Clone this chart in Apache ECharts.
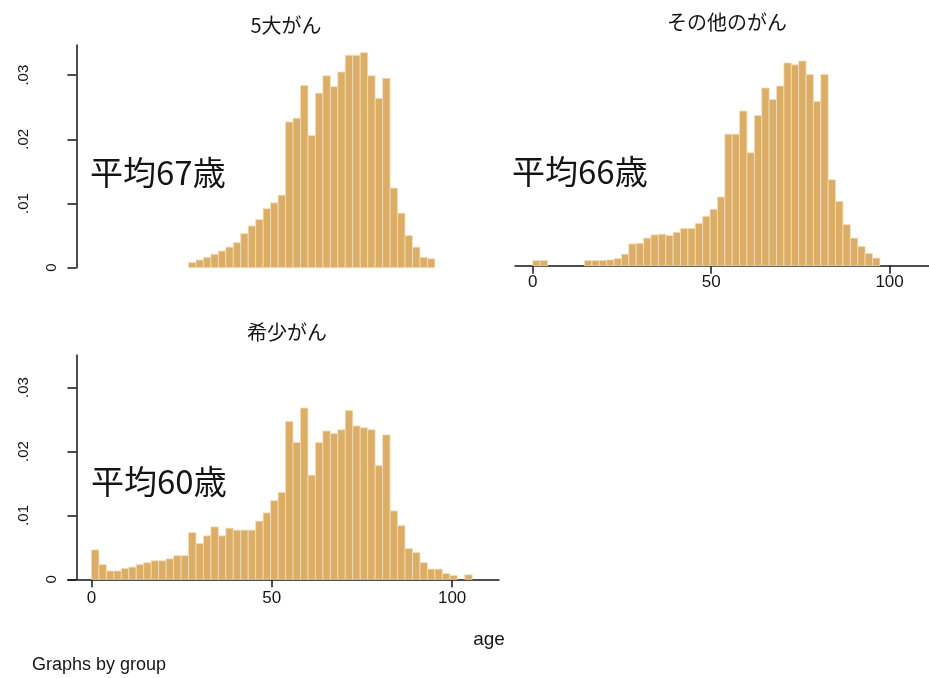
<!DOCTYPE html>
<html>
<head>
<meta charset="utf-8">
<script src="https://cdn.jsdelivr.net/npm/echarts@6/dist/echarts.min.js"></script>
<style>
  html, body { margin: 0; padding: 0; background: #ffffff; }
  #chart { width: 929px; height: 678px; }
</style>
</head>
<body>
<div id="chart"></div>
<script>
// Age histograms (density scale) for three cancer groups, common bins
const binStart = 0;
const binWidth = 2.07;

const groupNames = ['5大がん', 'その他のがん', '希少がん'];
const meanLabels = ['平均67歳', '平均66歳', '平均60歳'];

// density per bin, bin i covers [binStart + i*binWidth, binStart + (i+1)*binWidth)
const densityMajor = [
  0, 0, 0, 0, 0, 0, 0, 0, 0, 0, 0, 0, 0,
  0.0008, 0.0012, 0.0016, 0.0021, 0.0026, 0.0032, 0.0039, 0.0053, 0.0065, 0.0075,
  0.0092, 0.0101, 0.0113, 0.0227, 0.0233, 0.0284, 0.0206, 0.0272, 0.0299, 0.0282,
  0.0305, 0.0331, 0.0331, 0.0335, 0.0299, 0.0264, 0.0295, 0.0124, 0.0085, 0.0050,
  0.0032, 0.0016, 0.0014
];
const densityOther = [
  0.0008, 0.0008, 0, 0, 0, 0, 0, 0.0008, 0.0008, 0.0008, 0.0009, 0.0011, 0.0018,
  0.0034, 0.0035, 0.0043, 0.0048, 0.0049, 0.0047, 0.0052, 0.0058, 0.0058, 0.0066,
  0.0077, 0.0088, 0.0107, 0.0205, 0.0205, 0.0241, 0.0176, 0.0234, 0.0277, 0.0259,
  0.0280, 0.0316, 0.0313, 0.0319, 0.0298, 0.0256, 0.0298, 0.0134, 0.0100, 0.0064,
  0.0043, 0.0030, 0.0019, 0.0012
];
const densityRare = [
  0.0046, 0.0023, 0.0013, 0.0013, 0.0017, 0.0019, 0.0023, 0.0026, 0.0029, 0.0029,
  0.0032, 0.0037, 0.0037, 0.0073, 0.0056, 0.0068, 0.0082, 0.0068, 0.0080, 0.0077,
  0.0077, 0.0077, 0.0091, 0.0104, 0.0123, 0.0136, 0.0247, 0.0214, 0.0268, 0.0163,
  0.0214, 0.0232, 0.0228, 0.0234, 0.0264, 0.0240, 0.0237, 0.0234, 0.0178, 0.0226,
  0.0107, 0.0084, 0.0048, 0.0042, 0.0026, 0.0016, 0.0016, 0.0009, 0.0006, 0, 0.0007
];

const xTicks = [0, 50, 100];
const yTicks = [0, 0.01, 0.02, 0.03];
const xTitle = 'age';
const noteText = 'Graphs by group';

const barFill = '#DBAD66';
const barEdge = '#F3DEB8';
const ink = '#151515';
const latinFont = '"Liberation Sans", Arial, sans-serif';
const cjkFont = '"Noto Sans CJK JP", "Noto Sans", sans-serif';

function toBins(dens) {
  const out = [];
  dens.forEach((d, i) => {
    if (d > 0) out.push([binStart + i * binWidth, binStart + (i + 1) * binWidth, d]);
  });
  return out;
}

function renderBar(params, api) {
  const top = api.coord([api.value(0), api.value(2)]);
  const base = api.coord([api.value(1), 0]);
  return {
    type: 'rect',
    shape: { x: top[0], y: top[1], width: base[0] - top[0], height: base[1] - top[1] },
    style: { fill: barFill, stroke: barEdge, lineWidth: 0.8 }
  };
}

function yLabel(v) {
  return v === 0 ? '0' : v.toFixed(2).replace(/^0/, '');
}

const axisLineStyle = { color: ink, width: 1.5 };

// main y axis: line, ticks and the "0" label
function yMain(grid, max) {
  return {
    type: 'value', gridIndex: grid, position: 'left', offset: -8.4,
    min: 0, max: max,
    splitLine: { show: false },
    axisLine: { show: true, onZero: false, lineStyle: axisLineStyle },
    axisTick: { show: true, length: 9, lineStyle: axisLineStyle, customValues: yTicks },
    axisLabel: {
      show: true, rotate: 90, margin: 17, customValues: [yTicks[0]],
      formatter: yLabel, color: ink, fontSize: 15, fontFamily: latinFont
    }
  };
}
// companion y axis carrying the remaining tick labels further out
function yLabels(grid, max) {
  return {
    type: 'value', gridIndex: grid, position: 'left', offset: -8.4,
    min: 0, max: max,
    splitLine: { show: false },
    axisLine: { show: false, onZero: false },
    axisTick: { show: false },
    axisLabel: {
      show: true, rotate: 90, margin: 45, customValues: yTicks.slice(1),
      formatter: yLabel, color: ink, fontSize: 15, fontFamily: latinFont
    }
  };
}
function xShown(grid, min, max, margin) {
  return {
    type: 'value', gridIndex: grid, min: min, max: max,
    splitLine: { show: false },
    axisLine: { show: true, onZero: false, lineStyle: axisLineStyle },
    axisTick: { show: true, length: 8, lineStyle: axisLineStyle, customValues: xTicks },
    axisLabel: {
      show: true, margin: margin, customValues: xTicks,
      color: ink, fontSize: 17, fontFamily: latinFont
    }
  };
}

const chart = echarts.init(document.getElementById('chart'), null, { renderer: 'canvas' });

const titleStyle = { color: ink, fontSize: 20, fontWeight: 'normal', fontFamily: cjkFont };

chart.setOption({
  backgroundColor: '#ffffff',
  animation: false,
  title: [
    { text: groupNames[0], left: 286, top: 15, textAlign: 'center', padding: 0, textStyle: titleStyle },
    { text: groupNames[1], left: 727, top: 12, textAlign: 'center', padding: 0, textStyle: titleStyle },
    { text: groupNames[2], left: 287, top: 322, textAlign: 'center', padding: 0, textStyle: titleStyle }
  ],
  grid: [
    { left: 68, top: 45, width: 431, height: 222.7, outerBoundsMode: 'none' },
    { left: 515, top: 43, width: 413.8, height: 222.7, outerBoundsMode: 'none' },
    { left: 68, top: 355, width: 431, height: 224.3, outerBoundsMode: 'none' }
  ],
  xAxis: [
    { type: 'value', gridIndex: 0, min: -6.5, max: 113, show: false },
    xShown(1, -5, 111, 8),
    xShown(2, -6.5, 113, 11)
  ],
  yAxis: [
    yMain(0, 0.0347),
    yLabels(0, 0.0347),
    { type: 'value', gridIndex: 1, min: 0, max: 0.0347, show: false },
    yMain(2, 0.0351),
    yLabels(2, 0.0351)
  ],
  series: [
    { type: 'custom', xAxisIndex: 0, yAxisIndex: 0, renderItem: renderBar,
      encode: { x: [0, 1], y: 2 }, data: toBins(densityMajor) },
    { type: 'custom', xAxisIndex: 1, yAxisIndex: 2, renderItem: renderBar,
      encode: { x: [0, 1], y: 2 }, data: toBins(densityOther) },
    { type: 'custom', xAxisIndex: 2, yAxisIndex: 3, renderItem: renderBar,
      encode: { x: [0, 1], y: 2 }, data: toBins(densityRare) }
  ],
  graphic: [
    { type: 'text', x: 90, y: 172, style: { text: meanLabels[0], font: '33px ' + cjkFont, fill: ink, verticalAlign: 'middle' } },
    { type: 'text', x: 512, y: 171, style: { text: meanLabels[1], font: '33px ' + cjkFont, fill: ink, verticalAlign: 'middle' } },
    { type: 'text', x: 91, y: 481, style: { text: meanLabels[2], font: '33px ' + cjkFont, fill: ink, verticalAlign: 'middle' } },
    { type: 'text', x: 489, y: 640, style: { text: xTitle, font: '19px ' + latinFont, fill: ink, align: 'center', verticalAlign: 'middle' } },
    { type: 'text', x: 32, y: 665, style: { text: noteText, font: '18px ' + latinFont, fill: ink, verticalAlign: 'middle' } }
  ]
});
</script>
</body>
</html>
